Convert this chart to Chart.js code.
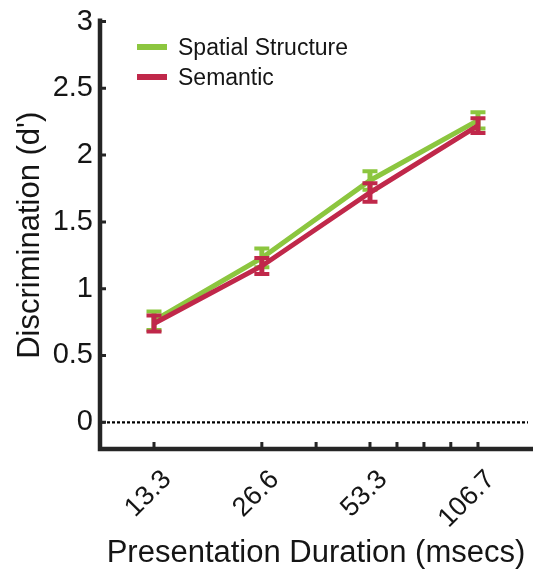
<!DOCTYPE html>
<html>
<head>
<meta charset="utf-8">
<script src="https://cdn.jsdelivr.net/npm/chart.js@4"></script>
<style>
  html, body { margin: 0; padding: 0; background: #ffffff; }
  #wrap { width: 535px; height: 580px; position: relative; }
</style>
</head>
<body>
<div id="wrap"><canvas id="c"></canvas></div>
<script>
// ---- data ----
const durations = [13.3, 26.6, 53.3, 106.7];           // msecs (log-spaced x)
const xTickLabels = ['13.3', '26.6', '53.3', '106.7'];
const minorTicks = [37.7, 63.4, 75.4, 89.6];
const spatial = [0.76, 1.23, 1.81, 2.26];
const spatialErr = [0.07, 0.07, 0.07, 0.06];
const semantic = [0.74, 1.17, 1.72, 2.22];
const semanticErr = [0.06, 0.06, 0.07, 0.055];
const yTicks = [0, 0.5, 1, 1.5, 2, 2.5, 3];
const seriesNames = ['Spatial Structure', 'Semantic'];

const GREEN = '#8cc63f';
const RED = '#c0284a';
const AXIS = '#252525';
const TEXT = '#151515';
const FONT = "'Liberation Sans', Arial, Helvetica, sans-serif";

const toPoints = (vals) => vals.map((v, i) => ({ x: durations[i], y: v }));

const errorBarPlugin = {
  id: 'errorBars',
  afterDatasetDraw(chart, args) {
    const ds = chart.data.datasets[args.index];
    if (!ds.errors) return;
    const ctx = chart.ctx, xs = chart.scales.x, ys = chart.scales.y;
    ctx.save();
    ctx.strokeStyle = ds.borderColor;
    ctx.lineCap = 'butt';
    ds.data.forEach((p, i) => {
      const x = xs.getPixelForValue(p.x);
      const yLo = ys.getPixelForValue(p.y - ds.errors[i]);
      const yHi = ys.getPixelForValue(p.y + ds.errors[i]);
      ctx.lineWidth = 5;
      ctx.beginPath(); ctx.moveTo(x, yLo); ctx.lineTo(x, yHi); ctx.stroke();
      ctx.lineWidth = 4;
      ctx.beginPath();
      ctx.moveTo(x - 7.5, yLo); ctx.lineTo(x + 7.5, yLo);
      ctx.moveTo(x - 7.5, yHi); ctx.lineTo(x + 7.5, yHi);
      ctx.stroke();
    });
    ctx.restore();
  }
};

const axesPlugin = {
  id: 'axesDecor',
  beforeDatasetsDraw(chart) {
    const ctx = chart.ctx, ys = chart.scales.y;
    const a = chart.chartArea;
    // dotted zero line
    ctx.save();
    ctx.strokeStyle = '#000';
    ctx.lineWidth = 2.2;
    ctx.setLineDash([3, 2]);
    const y0 = ys.getPixelForValue(0);
    ctx.beginPath(); ctx.moveTo(a.left + 2, y0); ctx.lineTo(a.right - 4, y0); ctx.stroke();
    ctx.restore();
  },
  afterDraw(chart) {
    const ctx = chart.ctx, xs = chart.scales.x, ys = chart.scales.y;
    const a = chart.chartArea;
    ctx.save();
    ctx.strokeStyle = AXIS;
    ctx.lineCap = 'butt';
    // axis lines
    ctx.lineWidth = 4.5;
    ctx.beginPath();
    ctx.moveTo(a.left, a.top - 3); ctx.lineTo(a.left, a.bottom + 2.25);
    ctx.moveTo(a.left - 2.25, a.bottom); ctx.lineTo(a.right + 1, a.bottom);
    ctx.stroke();
    // inward ticks
    ctx.lineWidth = 3;
    ctx.beginPath();
    yTicks.forEach(v => {
      const y = ys.getPixelForValue(v);
      ctx.moveTo(a.left, y); ctx.lineTo(a.left + 6, y);
    });
    durations.concat(minorTicks).forEach(v => {
      const x = xs.getPixelForValue(v);
      ctx.moveTo(x, a.bottom); ctx.lineTo(x, a.bottom - 7);
    });
    ctx.stroke();
    // legend
    const items = [
      { label: seriesNames[0], color: GREEN, y: 47 },
      { label: seriesNames[1], color: RED, y: 77 }
    ];
    ctx.font = '23px ' + FONT;
    ctx.textBaseline = 'middle';
    ctx.textAlign = 'left';
    items.forEach(it => {
      ctx.strokeStyle = it.color;
      ctx.lineWidth = 6;
      ctx.beginPath(); ctx.moveTo(137, it.y); ctx.lineTo(167, it.y); ctx.stroke();
      ctx.fillStyle = TEXT;
      ctx.fillText(it.label, 178, it.y + 1.5);
    });
    ctx.restore();
  }
};

new Chart(document.getElementById('c'), {
  type: 'line',
  data: {
    datasets: [
      {
        label: seriesNames[0],
        data: toPoints(spatial),
        errors: spatialErr,
        borderColor: GREEN,
        backgroundColor: GREEN,
        borderWidth: 5,
        pointRadius: 0,
        tension: 0,
        order: 1
      },
      {
        label: seriesNames[1],
        data: toPoints(semantic),
        errors: semanticErr,
        borderColor: RED,
        backgroundColor: RED,
        borderWidth: 5,
        pointRadius: 0,
        tension: 0,
        order: 0
      }
    ]
  },
  options: {
    responsive: true,
    maintainAspectRatio: false,
    animation: false,
    devicePixelRatio: 1,
    layout: { padding: { top: 14, right: 3, left: 0, bottom: 0 } },
    plugins: { legend: { display: false }, tooltip: { enabled: false } },
    scales: {
      x: {
        type: 'logarithmic',
        min: 9.4,
        max: 151,
        afterBuildTicks: (s) => { s.ticks = durations.map(v => ({ value: v })); },
        afterFit: (s) => { s.height = 131; },
        grid: { display: false, drawTicks: false },
        border: { display: false },
        ticks: {
          autoSkip: false,
          minRotation: 45,
          maxRotation: 45,
          padding: 15,
          labelOffset: 13,
          color: TEXT,
          font: { size: 27, family: FONT },
          callback: (v, i) => xTickLabels[i]
        },
        title: {
          display: true,
          text: 'Presentation Duration (msecs)',
          color: TEXT,
          font: { size: 31, family: FONT },
          padding: { top: 0, bottom: 8 }
        }
      },
      y: {
        type: 'linear',
        min: -0.2,
        max: 3,
        afterBuildTicks: (s) => { s.ticks = yTicks.map(v => ({ value: v })); },
        afterFit: (s) => { s.width = 100; },
        grid: { display: false, drawTicks: false },
        border: { display: false },
        ticks: {
          padding: 7,
          color: TEXT,
          font: { size: 29, family: FONT, lineHeight: 1 },
          callback: (v) => String(v)
        },
        title: {
          display: true,
          text: "Discrimination (d')",
          color: TEXT,
          font: { size: 31, family: FONT },
          padding: { top: 12, bottom: 0 }
        }
      }
    }
  },
  plugins: [errorBarPlugin, axesPlugin]
});
</script>
</body>
</html>
